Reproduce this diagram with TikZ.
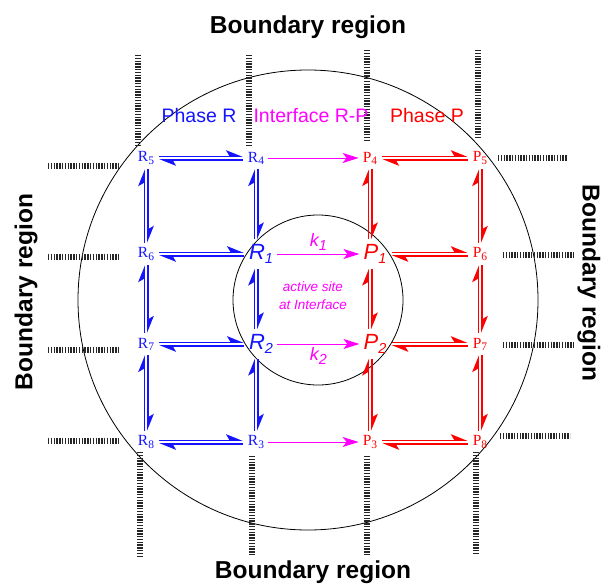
\documentclass[tikz,border=0pt]{standalone}
\usepackage{fontspec}
\setmainfont{Liberation Serif}
\newfontfamily\sansfont{Liberation Sans}
\usepackage{tikz}
\usetikzlibrary{calc}
\usetikzlibrary{arrows.meta}
\definecolor{phaseR}{RGB}{20,20,255}
\definecolor{phaseP}{RGB}{255,0,0}
\definecolor{iface}{RGB}{255,0,255}
\newcommand{\Sub}[1]{\raisebox{-0.3ex}{\fontsize{11.5}{11.5}\selectfont #1}}
\newcommand{\SiteSub}[1]{\raisebox{-0.35ex}{\fontsize{14.5}{14.5}\selectfont #1}}
% equilibrium pairs: horizontal and vertical
\newcommand{\EqH}[3]{%
  \draw[eqline,#1] ($(#2)+(0,1.8pt)$) -- ($(#3)+(0,1.8pt)$);
  \draw[eqline,#1] ($(#3)+(0,-1.8pt)$) -- ($(#2)+(0,-1.8pt)$);}
\newcommand{\EqV}[3]{%
  \draw[eqline,#1] ($(#3)+(-1.8pt,0)$) -- ($(#2)+(-1.8pt,0)$);
  \draw[eqline,#1] ($(#2)+(1.8pt,0)$) -- ($(#3)+(1.8pt,0)$);}

\begin{document}
\begin{tikzpicture}[x=1pt,y=-1pt,
    spec/.style={font=\fontsize{15.5}{15.5}\selectfont, inner sep=2pt},
    site/.style={font=\sansfont\itshape\fontsize{22}{22}\selectfont, inner sep=2pt},
    eqline/.style={line width=1.4pt, shorten >=3pt, shorten <=3pt,
      -{Stealth[harpoon,length=15pt,width=12pt,inset=3.5pt]}},
    react/.style={iface, line width=1pt, shorten >=2pt, shorten <=2pt,
      -{Stealth[length=16pt,width=10pt,inset=4pt]}},
    boundary/.style={black!85, line width=6pt, dash pattern=on 1.3pt off 1.5pt},
    title/.style={font=\sansfont\bfseries\fontsize{24.5}{24.5}\selectfont},
    phase/.style={font=\sansfont\fontsize{19.5}{19.5}\selectfont}]

  \useasboundingbox (0,0) rectangle (601,586);

  % regions
  \draw[line width=0.8pt] (308,300) circle[radius=230pt];
  \draw[line width=0.8pt] (318,300) circle[radius=85pt];

  % boundary ticks
  \draw[boundary] (138,55) -- (138,146);
  \draw[boundary] (249,55) -- (249,146);
  \draw[boundary] (367,50) -- (367,140);
  \draw[boundary] (478,50) -- (478,138);
  \draw[boundary] (140,452) -- (140,556);
  \draw[boundary] (252,456) -- (252,556);
  \draw[boundary] (367,456) -- (367,556);
  \draw[boundary] (476,452) -- (476,553);
  \draw[boundary] (48,166) -- (120,166);
  \draw[boundary] (48,257) -- (120,257);
  \draw[boundary] (48,350) -- (120,350);
  \draw[boundary] (48,441) -- (120,441);
  \draw[boundary] (498,158) -- (567,158);
  \draw[boundary] (503,255) -- (575,255);
  \draw[boundary] (503,345) -- (575,345);
  \draw[boundary] (500,436) -- (570,436);

  % titles
  \node[title] (btop) at (308,27) {Boundary region};
  \node[title] (bbot) at (313,572) {Boundary region};
  \node[title, rotate=90] (bleft) at (26,292) {Boundary region};
  \node[title, rotate=-90] (bright) at (589,283) {Boundary region};
  \node[phase, text=phaseR] (lr) at (199,116) {Phase R};
  \node[phase, text=iface] (li) at (311,116) {Interface R-P};
  \node[phase, text=phaseP] (lp) at (427,116) {Phase P};

  % species
  \node[spec, text=phaseR] (r5) at (146,158) {R\Sub{5}};
  \node[spec, text=phaseR, node distance=110pt] (r4) [right of=r5] {R\Sub{4}};
  \node[spec, text=phaseP, node distance=114pt] (p4) [right of=r4] {P\Sub{4}};
  \node[spec, text=phaseP, node distance=110pt] (p5) [right of=p4] {P\Sub{5}};

  \node[spec, text=phaseR, node distance=96pt] (r6) [below of=r5] {R\Sub{6}};
  \node[site, text=phaseR, node distance=96pt, xshift=5pt] (r1) [below of=r4] {R\SiteSub{1}};
  \node[site, text=phaseP, node distance=96pt, xshift=5pt] (p1) [below of=p4] {P\SiteSub{1}};
  \node[spec, text=phaseP, node distance=96pt] (p6) [below of=p5] {P\Sub{6}};

  \node[spec, text=phaseR, node distance=90pt] (r7) [below of=r6] {R\Sub{7}};
  \node[site, text=phaseR, node distance=90pt] (r2) [below of=r1] {R\SiteSub{2}};
  \node[site, text=phaseP, node distance=90pt] (p2) [below of=p1] {P\SiteSub{2}};
  \node[spec, text=phaseP, node distance=90pt] (p7) [below of=p6] {P\Sub{7}};

  \node[spec, text=phaseR, node distance=284pt] (r8) [below of=r5] {R\Sub{8}};
  \node[spec, text=phaseR, node distance=284pt] (r3) [below of=r4] {R\Sub{3}};
  \node[spec, text=phaseP, node distance=284pt] (p3) [below of=p4] {P\Sub{3}};
  \node[spec, text=phaseP, node distance=284pt] (p8) [below of=p5] {P\Sub{8}};

  \node[font=\sansfont\itshape\fontsize{13.5}{18}\selectfont, text=iface, align=center]
    (site) at (313,296) {active site\\at Interface};

  % phase R
  \EqH{phaseR}{r5.east}{r4.west}
  \EqH{phaseR}{r6.east}{r1.west}
  \EqH{phaseR}{r7.east}{r2.west}
  \EqH{phaseR}{r8.east}{r3.west}
  \EqV{phaseR}{r5.south}{r6.north}
  \EqV{phaseR}{r6.south}{r7.north}
  \EqV{phaseR}{r7.south}{r8.north}
  \EqV{phaseR}{r4.south}{r4.south |- r1.north}
  \EqV{phaseR}{r4 |- r1.south}{r4 |- r2.north}
  \EqV{phaseR}{r4 |- r2.south}{r3.north}

  % phase P
  \EqH{phaseP}{p4.east}{p5.west}
  \EqH{phaseP}{p1.east}{p6.west}
  \EqH{phaseP}{p2.east}{p7.west}
  \EqH{phaseP}{p3.east}{p8.west}
  \EqV{phaseP}{p5.south}{p6.north}
  \EqV{phaseP}{p6.south}{p7.north}
  \EqV{phaseP}{p7.south}{p8.north}
  \EqV{phaseP}{p4.south}{p4.south |- p1.north}
  \EqV{phaseP}{p4 |- p1.south}{p4 |- p2.north}
  \EqV{phaseP}{p4 |- p2.south}{p3.north}

  % interface reactions
  \draw[react] (r4) -- (p4);
  \draw[react] (r1) -- node[above, text=iface, font=\sansfont\itshape\fontsize{18}{18}\selectfont] (k1) {k\SiteSub{1}} (p1);
  \draw[react] (r2) -- node[below, text=iface, font=\sansfont\itshape\fontsize{18}{18}\selectfont] (k2) {k\SiteSub{2}} (p2);
  \draw[react] (r3) -- (p3);
\end{tikzpicture}
\end{document}
